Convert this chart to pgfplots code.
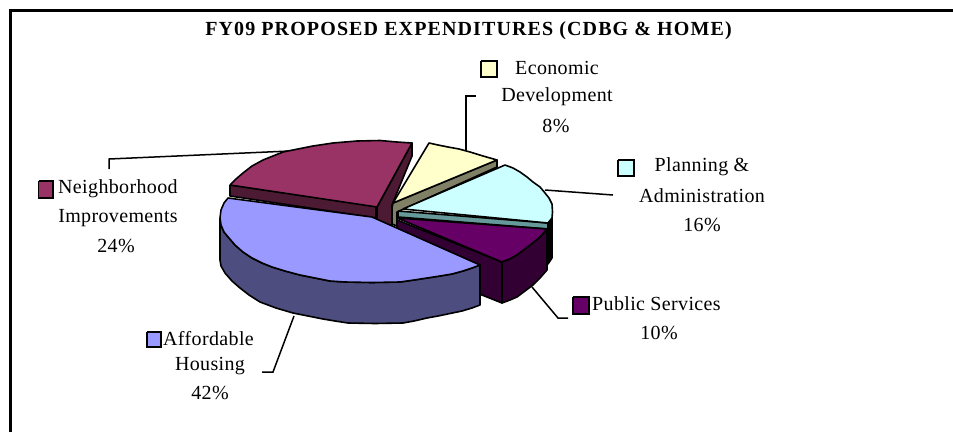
\documentclass[border=0pt]{standalone}
\usepackage{pgfplots}
\pgfplotsset{compat=1.18}
\usepackage{fontspec}
\setmainfont{Liberation Serif}
\newfontfamily\labfont[LetterSpace=1.8]{Liberation Serif}
\newfontfamily\titfont[LetterSpace=5.6,BoldFont={Liberation Serif Bold}]{Liberation Serif}
\definecolor{cMar}{HTML}{993366}\definecolor{cMarD}{HTML}{4D1A33}
\definecolor{cYel}{HTML}{FFFFCC}\definecolor{cYelD}{HTML}{808066}
\definecolor{cCya}{HTML}{CCFFFF}\definecolor{cCyaD}{HTML}{669999}
\definecolor{cPur}{HTML}{660066}\definecolor{cPurD}{HTML}{330033}
\definecolor{cBlu}{HTML}{9999FF}\definecolor{cBluD}{HTML}{4D4D80}
\pgfplotsset{
 slice/.style={draw=black,line width=1.6pt,line join=round,mark=none,fill=#1},
 leader/.style={draw=black,line width=1.5pt,mark=none,line join=miter},
 key/.style={draw=black,line width=1.5pt,mark=none,line join=miter,fill=#1},
}
\newcommand{\lab}{\labfont\fontsize{20}{20}\selectfont}
\begin{document}
\begin{tikzpicture}
\useasboundingbox (0,0) rectangle (953pt,432pt);
\begin{axis}[at={(0,0)},anchor=south west,scale only axis,width=953pt,height=432pt,
  xmin=0,xmax=953,ymin=0,ymax=432,y dir=reverse,hide axis,clip=false]
% frame
\addplot[draw=black,line width=2.8pt,mark=none] coordinates {(10.5,432)(10.5,10.5)(953,10.5)};
% leaders
\addplot[leader] coordinates {(109,169)(109,159)(290,151)};
\addplot[leader] coordinates {(476,96)(466,96)(466,150)};
\addplot[leader] coordinates {(613,195)(545,190)};
\addplot[leader] coordinates {(568,318)(558,318)(532,287)};
\addplot[leader] coordinates {(262,372)(273,372)(294,316)};
% maroon slice
\addplot[slice=cMarD] coordinates {(230,185)(376,206)(376,218)(230,196)(230,185)};
\addplot[slice=cMarD] coordinates {(377,207)(412,143)(412,156)(392,205)(392,228)(377,222)(377,207)};
\addplot[slice=cMar] coordinates {(230,185)(236,179)(243,173)(252,166)(263,160)(273,156)(283,152)(298,149)(313,146)(333,143)(357,141)(380,140.5)(397,142)(412,143)(377,207)(230,185)};
% yellow slice
\addplot[slice=cYelD] coordinates {(393,203)(497,160)(497,167)(397,212)(397,226)(392,224)(392,208)(393,203)};
\addplot[slice=cYel] coordinates {(393,203)(429,143)(438,145)(448,147)(459,149)(470,152)(483,156)(497,160)(393,203)};
% cyan slice
\addplot[slice=black] coordinates {(548,223)(552,218)(552,258)(548,264)(548,223)};
\addplot[slice=cCyaD] coordinates {(398,211)(548,223)(548,229)(398,217)(398,211)};
\addplot[slice=cCya] coordinates {(403,209)(505,165)(513,168)(520,172)(527,177)(533,182)(540,187)(545,193)(549,198)(552,204)(552.5,212)(552,218)(548,223)(403,209)};
% purple slice
\addplot[slice=cPurD] coordinates {(397,220)(502,262)(502,303)(397,261)(397,220)};
\addplot[slice=cPur] coordinates {(397,218)(547,229)(540,237)(533,243)(525,249)(517,255)(510,259)(502,262)(397,218)};
\addplot[slice=cPurD] coordinates {(502,262)(510,259)(517,255)(525,249)(533,243)(540,237)(547,230)(547,270)(540,278)(533,285)(525,291)(517,297)(510,300)(502,303)(502,262)};
% blue slice
\addplot[slice=cBluD] coordinates {(220,218)(221,225)(224,232)(229,238)(235,245)(243,252)(252,258)(262,263)(272,267)(285,271)(300,275)(315,278)(330,281)(345,282)(372,282.5)(400,282)(414,280)(427,278)(440,276)(452,274)(463,271)(472,268)(480,265)(480,305)(472,308)(462,311)(450,313.5)(438,316)(427,318)(414,321)(403,323)(375,323.5)(348,323)(335,321)(323,319)(308,316)(293,313)(276,308)(260,302)(249,295)(240,288)(232,281)(225,273)(221,266)(220,260)(220,218)};
\addplot[slice=cBlu] coordinates {(372,217)(228,198)(224,203)(221,210)(220,218)(221,225)(224,232)(229,238)(235,245)(243,252)(252,258)(262,263)(272,267)(285,271)(300,275)(315,278)(330,281)(345,282)(372,282.5)(400,282)(414,280)(427,278)(440,276)(452,274)(463,271)(472,268)(480,265)(372,217)};
% legend keys
\addplot[key=cMar] coordinates {(38.5,181)(53,181)(53,198)(38.5,198)(38.5,181)};
\addplot[key=cYel] coordinates {(481,61)(497,61)(497,77)(481,77)(481,61)};
\addplot[key=cCya] coordinates {(618,160)(634,160)(634,176)(618,176)(618,160)};
\addplot[key=cPur] coordinates {(573,297)(589,297)(589,314)(573,314)(573,297)};
\addplot[key=cBlu] coordinates {(147,332)(161,332)(161,347)(147,347)(147,332)};
% texts
\node[anchor=center] at (axis cs:468.5,31) {\titfont\fontsize{20}{20}\selectfont\bfseries FY09 PROPOSED EXPENDITURES (CDBG \& HOME)};
\node[font=\lab,anchor=west,inner sep=0pt] at (axis cs:58,189) {Neighborhood};
\node[font=\lab] at (axis cs:118,218) {Improvements};
\node[font=\lab] at (axis cs:116,246) {24\%};
\node[font=\lab] at (axis cs:557,68) {Economic};
\node[font=\lab] at (axis cs:557,97) {Development};
\node[font=\lab] at (axis cs:556,126) {8\%};
\node[font=\lab] at (axis cs:702,167) {Planning \&};
\node[font=\lab] at (axis cs:702,196) {Administration};
\node[font=\lab] at (axis cs:702,225) {16\%};
\node[font=\lab,anchor=west,inner sep=0pt] at (axis cs:592,304) {Public Services};
\node[font=\lab] at (axis cs:659,333) {10\%};
\node[font=\lab,anchor=west,inner sep=0pt] at (axis cs:163,339) {Affordable};
\node[font=\lab] at (axis cs:210,366) {Housing};
\node[font=\lab] at (axis cs:210,393) {42\%};
\end{axis}
\end{tikzpicture}
\end{document}
